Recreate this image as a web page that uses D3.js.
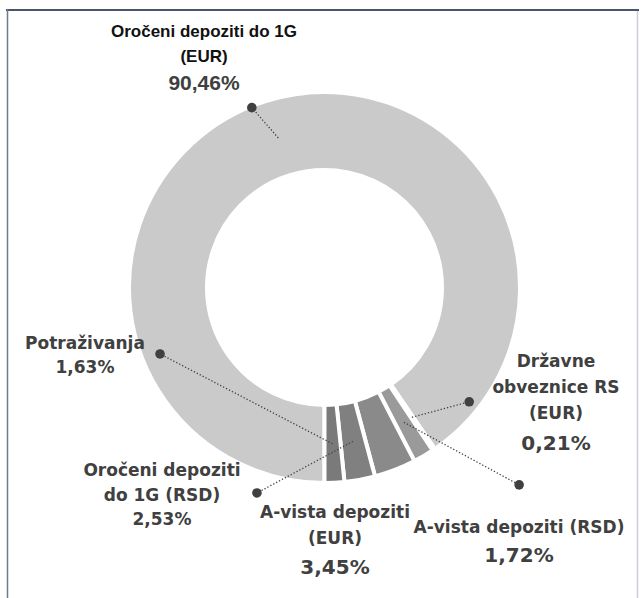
<!DOCTYPE html>
<html>
<head>
<meta charset="utf-8">
<script src="https://cdn.jsdelivr.net/npm/d3@7"></script>
<style>
  html, body { margin: 0; padding: 0; background: #fff; }
  svg { display: block; }
</style>
</head>
<body>
<div id="chart"></div>
<script>
// Data
const categories = [
    "Oročeni depoziti do 1G (EUR)",
    "Državne obveznice RS (EUR)",
    "A-vista depoziti (RSD)",
    "A-vista depoziti (EUR)",
    "Oročeni depoziti do 1G (RSD)",
    "Potraživanja"
];
const shares = [90.46, 0.21, 1.72, 3.45, 2.53, 1.63];
const valueLabels = ["90,46%", "0,21%", "1,72%", "3,45%", "2,53%", "1,63%"];
const labelLines = [
    ["Oročeni depoziti do 1G", "(EUR)"],
    ["Državne", "obveznice RS", "(EUR)"],
    ["A-vista depoziti (RSD)"],
    ["A-vista depoziti", "(EUR)"],
    ["Oročeni depoziti", "do 1G (RSD)"],
    ["Potraživanja"]
];

// Styles
const sliceColors = ["#cacaca", "#a6a6a6", "#9a9a9a", "#8a8a8a", "#808080", "#7a7a7a"];
const textColor = "#404040";

const W = 641, H = 598;
const cx = 324.5, cy = 287.5;
const rOuter = 195.5, rInner = 117.5;

// label layout: text anchor (x, top baseline), line spacing, font sizes, dot in polar coords
const layout = [
    {x: 204, y: 37, gap: 25, numGap: 28, font: "'Liberation Sans', Arial, sans-serif", size: 17, numSize: 21, nameColor: "#111", dot: {a: 338, r: 194}},
    {x: 556, y: 367, gap: 26, numGap: 31, size: 17, numSize: 20, dot: {a: 128.3, r: 184.4}},
    {x: 519, y: 533, gap: 26, numGap: 29, size: 17, numSize: 20, dot: {a: 135.4, r: 277.2}},
    {x: 335, y: 518, gap: 26, numGap: 30, size: 17, numSize: 20, dot: null},
    {x: 162, y: 476, gap: 25, numGap: 24, size: 17, numSize: 17, dot: {a: 198.2, r: 216.3}},
    {x: 85, y: 349, gap: 25, numGap: 24, size: 17, numSize: 17, dot: {a: 248, r: 177.4}}
];

const svg = d3.select("#chart")
    .append("svg")
    .attr("width", W)
    .attr("height", H);

// frame
svg.append("line").attr("x1", 6).attr("x2", 639).attr("y1", 10).attr("y2", 10)
    .attr("stroke", "#4a5568").attr("stroke-width", 2);
svg.append("line").attr("x1", 7.5).attr("x2", 7.5).attr("y1", 9).attr("y2", H)
    .attr("stroke", "#6f7a8c").attr("stroke-width", 1.5);
svg.append("line").attr("x1", 637.5).attr("x2", 637.5).attr("y1", 11).attr("y2", H)
    .attr("stroke", "#c9ced8").attr("stroke-width", 1.5);

const g = svg.append("g").attr("transform", `translate(${cx},${cy})`);

const pie = d3.pie()
    .sort(null)
    .value(d => d)
    .startAngle(Math.PI)
    .endAngle(3 * Math.PI);

const arcs = pie(shares);

const arc = d3.arc().innerRadius(rInner).outerRadius(rOuter);
const midArc = d3.arc().innerRadius(119.5).outerRadius(193.5);

g.selectAll("path.slice")
    .data(arcs)
    .enter()
    .append("path")
    .attr("class", "slice")
    .attr("d", arc)
    .attr("fill", (d, i) => sliceColors[i])
    .attr("stroke", "#fff")
    .attr("stroke-width", 4)
    .attr("stroke-linejoin", "miter");

// polar helper (angle in degrees clockwise from 12 o'clock)
function polar(a, r) {
    const t = a * Math.PI / 180;
    return [r * Math.sin(t), -r * Math.cos(t)];
}

// leader lines + dots
arcs.forEach((d, i) => {
    const L = layout[i];
    if (!L.dot) return;
    const [x0, y0] = midArc.centroid(d);
    const [x1, y1] = polar(L.dot.a, L.dot.r);
    g.append("line")
        .attr("x1", x0).attr("y1", y0)
        .attr("x2", x1).attr("y2", y1)
        .attr("stroke", textColor)
        .attr("stroke-width", 1.3)
        .attr("stroke-dasharray", "1.3,2");
    g.append("circle")
        .attr("cx", x1).attr("cy", y1)
        .attr("r", 4.8)
        .attr("fill", textColor);
});

// labels
categories.forEach((c, i) => {
    const L = layout[i];
    const fam = L.font || "'DejaVu Sans', sans-serif";
    const t = svg.append("g").attr("class", "label");
    labelLines[i].forEach((line, k) => {
        t.append("text")
            .attr("x", L.x)
            .attr("y", L.y + k * L.gap)
            .attr("text-anchor", "middle")
            .style("font-family", fam)
            .style("font-weight", "bold")
            .style("font-size", L.size + "px")
            .style("fill", L.nameColor || textColor)
            .text(line);
    });
    t.append("text")
        .attr("x", L.x)
        .attr("y", L.y + (labelLines[i].length - 1) * L.gap + L.numGap)
        .attr("text-anchor", "middle")
        .style("font-family", fam)
        .style("font-weight", "bold")
        .style("font-size", L.numSize + "px")
        .style("fill", textColor)
        .text(valueLabels[i]);
});
</script>
</body>
</html>
